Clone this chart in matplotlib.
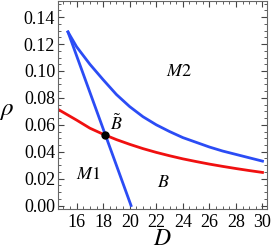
import matplotlib
matplotlib.use("Agg")
import matplotlib.pyplot as plt
from matplotlib.ticker import MultipleLocator

plt.rcParams['mathtext.fontset'] = 'stix'
plt.rcParams['font.family'] = ['Liberation Serif', 'DejaVu Serif']

# upper boundary curve (M2 / B)
d_upper = [15.35, 16, 17, 18, 19, 20, 21, 22, 23, 24, 25, 26, 27, 28, 29, 30]
rho_upper = [0.129, 0.118, 0.105, 0.0935, 0.0825, 0.0735, 0.066, 0.060, 0.055,
             0.0505, 0.047, 0.0435, 0.0405, 0.038, 0.0355, 0.033]

# straight boundary (M1 / B)
d_line = [15.35, 20.1]
rho_line = [0.129, 0.0]

# lower red curve
d_red = [14.6, 16, 17, 18, 19, 20, 21, 22, 23, 24, 25, 26, 27, 28, 29, 30]
rho_red = [0.0715, 0.0635, 0.0575, 0.053, 0.049, 0.0455, 0.0423, 0.0395, 0.037,
           0.0347, 0.0327, 0.0308, 0.0291, 0.0275, 0.026, 0.0246]

# crossing point B~
d_cross, rho_cross = 18.12, 0.0525

region_labels = [(r'$M2$', 23.7, 0.0995), (r'$M1$', 16.9, 0.023),
                 (r'$B$', 22.5, 0.017), (r'$\tilde{B}$', 19.0, 0.061)]

fig = plt.figure(figsize=(2.73, 2.52), dpi=100)
ax = fig.add_axes([0.2125, 0.171, 0.766, 0.825])

blue = '#2b4cf5'
ax.plot(d_upper, rho_upper, color=blue, lw=2)
ax.plot(d_line, rho_line, color=blue, lw=2)
ax.plot(d_red, rho_red, color='#f01010', lw=2)
ax.plot([d_cross], [rho_cross], 'o', color='black', ms=5)

for txt, x, y in region_labels:
    ax.text(x, y, txt, fontsize=13, ha='center', va='center')

ax.set_xlim(14.6, 30.35)
ax.set_ylim(-0.0025, 0.152)
ax.xaxis.set_major_locator(MultipleLocator(2))
ax.xaxis.set_minor_locator(MultipleLocator(0.5))
ax.yaxis.set_major_locator(MultipleLocator(0.02))
ax.yaxis.set_minor_locator(MultipleLocator(0.005))
ax.yaxis.set_major_formatter(plt.FuncFormatter(lambda v, p: f"{v:.2f}"))
ax.tick_params(which='both', direction='in', top=True, right=True,
               labelsize=13, color='#444444')
ax.tick_params(axis='x', pad=4)
ax.tick_params(axis='y', pad=2)
ax.tick_params(which='major', length=4, width=0.8)
ax.tick_params(which='minor', length=2, width=0.6)
for s in ax.spines.values():
    s.set_color('#666666')
    s.set_linewidth(0.8)

ax.set_xlabel(r'$D$', fontsize=17, va='center')
ax.xaxis.set_label_coords(0.5, -0.148)
ax.set_ylabel(r'$\rho$', fontsize=18, rotation=0, va='center', ha='center')
ax.yaxis.set_label_coords(-0.245, 0.47)

fig.savefig('out.png', dpi=100)
